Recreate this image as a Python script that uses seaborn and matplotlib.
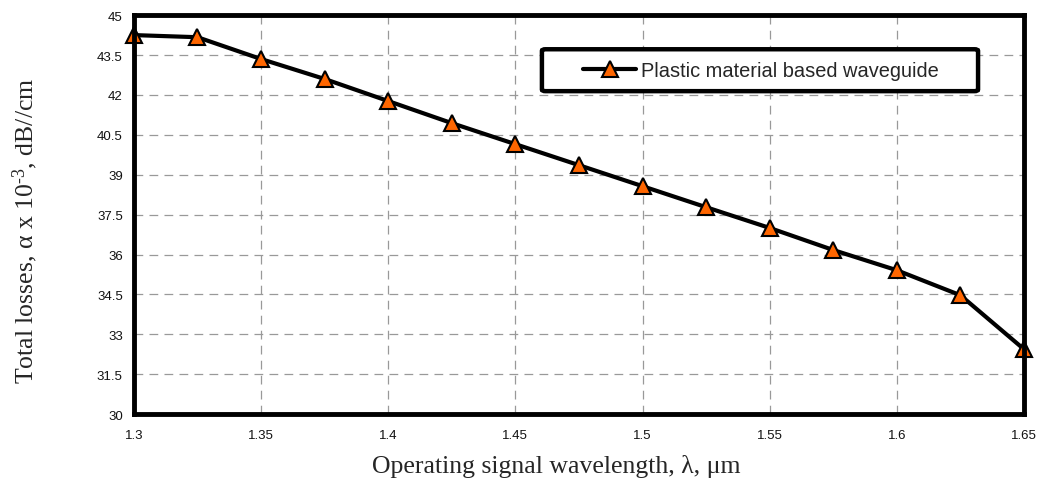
import matplotlib
matplotlib.use('Agg')
import matplotlib.pyplot as plt
from matplotlib.patches import FancyBboxPatch
import seaborn as sns
import pandas as pd

# Data
wavelength = [1.3, 1.325, 1.35, 1.375, 1.4, 1.425, 1.45, 1.475,
              1.5, 1.525, 1.55, 1.575, 1.6, 1.625, 1.65]
losses = [44.25, 44.17, 43.35, 42.6, 41.77, 40.94, 40.15, 39.36,
          38.57, 37.78, 37.0, 36.17, 35.41, 34.47, 32.44]
series_name = 'Plastic material based waveguide'
x_ticks = [1.3, 1.35, 1.4, 1.45, 1.5, 1.55, 1.6, 1.65]
y_ticks = [30, 31.5, 33, 34.5, 36, 37.5, 39, 40.5, 42, 43.5, 45]

df = pd.DataFrame({'wavelength': wavelength, 'losses': losses})

sns.set_style('white')
plt.rcParams['font.family'] = ['Liberation Sans', 'DejaVu Sans']
plt.rcParams['mathtext.fontset'] = 'custom'
plt.rcParams['mathtext.rm'] = 'Liberation Serif'
plt.rcParams['mathtext.it'] = 'Liberation Serif:italic'

fig = plt.figure(figsize=(10.38, 4.89), dpi=100)
ax = fig.add_axes([0.129, 0.151, 0.8575, 0.816])

sns.lineplot(data=df, x='wavelength', y='losses', ax=ax, color='black',
             linewidth=3, marker='^', markersize=11,
             markerfacecolor='#FF6600', markeredgecolor='black',
             markeredgewidth=1.5, label=series_name, clip_on=False, zorder=5)

ax.set_xlim(1.3, 1.65)
ax.set_ylim(30, 45)
ax.set_xticks(x_ticks)
ax.set_xticklabels([f'{t:g}' for t in x_ticks])
ax.set_yticks(y_ticks)
ax.set_yticklabels([f'{t:g}' for t in y_ticks])
ax.tick_params(length=0, labelsize=9.5, colors='#111111')
ax.tick_params(axis='x', pad=11)
ax.tick_params(axis='y', pad=8)

ax.grid(True, color='#999999', linestyle=(0, (7, 5)), linewidth=0.9)
for s in ax.spines.values():
    s.set_linewidth(3.5)
    s.set_color('black')
    s.set_zorder(6)

ax.set_xlabel('Operating signal wavelength, λ, μm', family='Liberation Serif',
              fontsize=18.5)
ax.set_ylabel('Total losses, α x 10$^{\u2010\\rm 3}$, dB//cm', family='Liberation Serif',
              fontsize=18.5)
ax.xaxis.set_label_coords(0.474, -0.100)
ax.yaxis.set_label_coords(-0.106, 0.462)

# legend frame drawn separately so the padding matches the reference box
frame = FancyBboxPatch((0.4584, 0.8095), 0.49, 0.105, transform=ax.transAxes,
                       boxstyle='round,pad=0,rounding_size=0.004',
                       facecolor='white', edgecolor='black', linewidth=3.2,
                       zorder=7)
ax.add_patch(frame)
leg = ax.legend(loc='center', bbox_to_anchor=(0.7045, 0.862), fontsize=14.4,
                frameon=False, handlelength=2.65, handletextpad=0.25,
                borderaxespad=0)
leg.set_zorder(8)

plt.savefig('out.png', dpi=100)
plt.close()
